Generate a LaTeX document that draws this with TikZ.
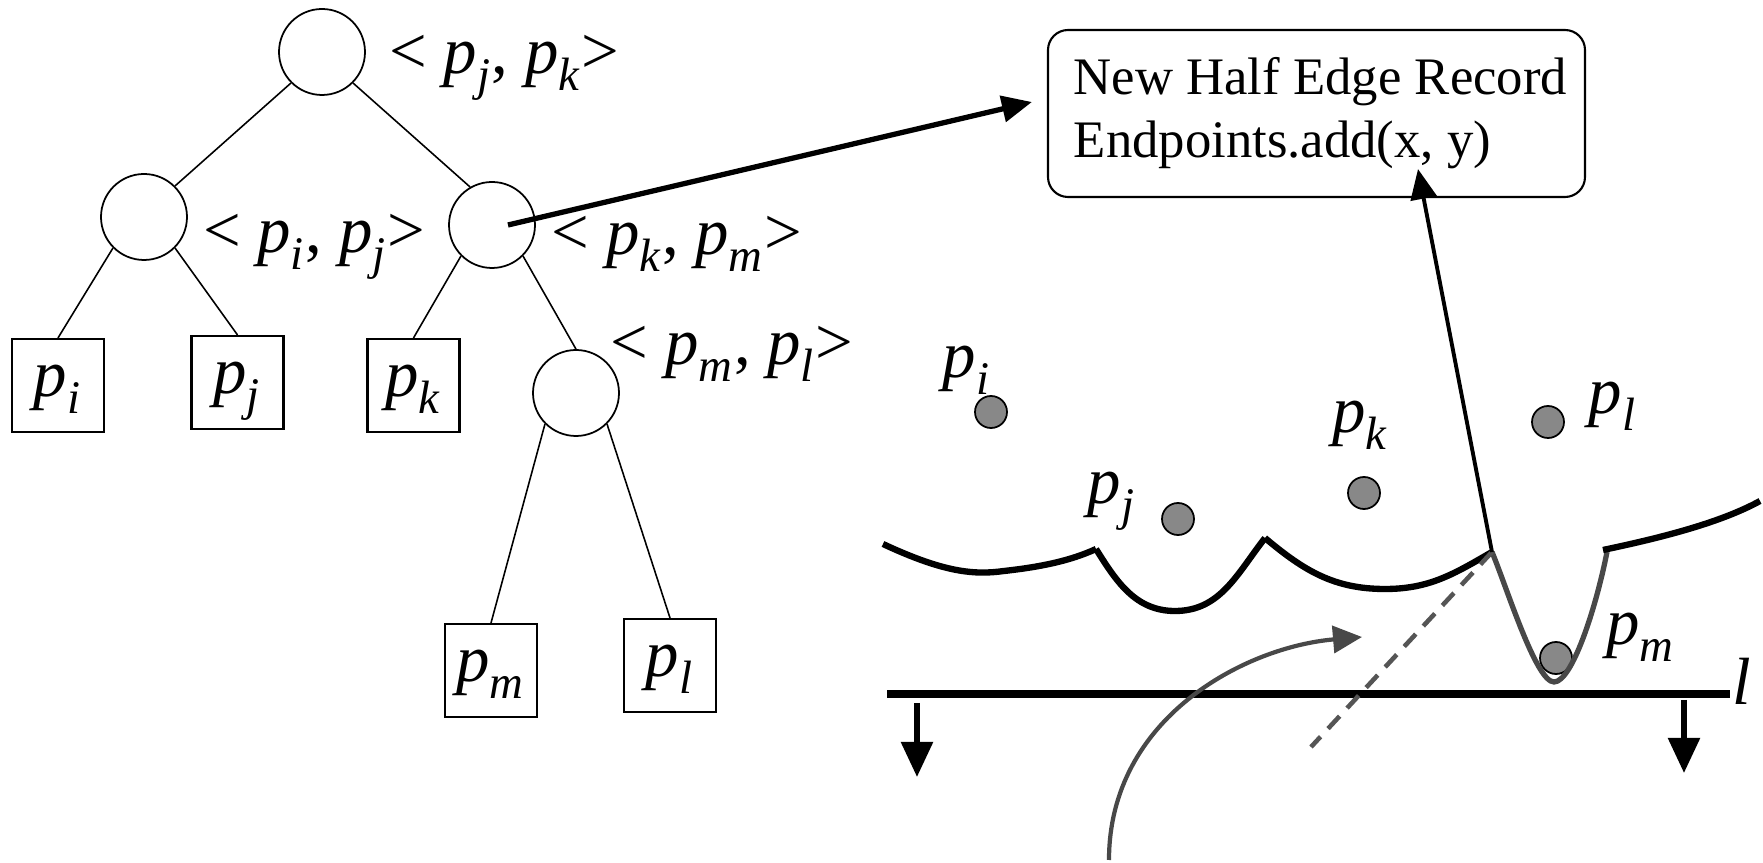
\documentclass[tikz,border=0pt]{standalone}
\usepackage{amsmath}
\usepackage{fontspec}
\setmainfont{Liberation Serif}
\usepackage{tikz}
\usetikzlibrary{arrows.meta,positioning,calc}
\definecolor{dotgray}{RGB}{136,136,136}
\definecolor{arcgray}{RGB}{72,72,72}
\definecolor{dashgray}{RGB}{85,85,85}
\newcommand{\pp}[1]{$\textit{p}_{\textit{#1}}$}

\begin{document}
\begin{tikzpicture}[
    inner/.style={draw, circle, minimum size=0.86cm, inner sep=0pt, line width=0.5pt},
    leaf/.style={draw, rectangle, minimum width=0.92cm, minimum height=0.93cm, inner sep=0pt, line width=0.6pt, font=\fontsize{19}{22}\selectfont, text height=0.9em, text depth=0.25em},
    pair/.style={font=\fontsize{19}{22}\selectfont, inner sep=0pt},
    site/.style={draw, circle, fill=dotgray, minimum size=0.32cm, inner sep=0pt, line width=0.5pt},
    record/.style={draw, rectangle, rounded corners=0.2cm, minimum width=5.37cm, minimum height=1.67cm, align=left, font=\fontsize{15}{18}\selectfont, line width=0.6pt},
    branch/.style={line width=0.45pt},
    bigarrow/.style={-{Triangle[length=0.3cm, width=0.26cm]}, line width=1.5pt},
    beach/.style={line width=1.8pt},
    sweep/.style={line width=2.3pt},
    fall/.style={-{Triangle[length=0.35cm, width=0.31cm]}, line width=1.6pt}
]
\useasboundingbox (0,0) rectangle (17.63,8.63);

% Status tree
\node[inner] (root) at (3.22,8.11) {};
\node[inner] (lc) at (1.44,6.46) {};
\node[inner] (rc) at (4.92,6.38) {};
\node[inner] (mc) at (5.76,4.70) {};

\node[pair] (broot) at (5.04,7.95) {< \pp{j}, \pp{k}>};
\node[pair] (blc) at (3.14,6.16) {< \pp{i}, \pp{j}>};
\node[pair] (brc) at (6.77,6.19) {< \pp{k}, \pp{m}>};
\node[pair] (bmc) at (7.32,5.09) {< \pp{m}, \pp{l}>};

% Leaves
\node[leaf] (fi) at (0.58,4.775) {\pp{i}};
\node[leaf] (fj) at (2.375,4.805) {\pp{j}};
\node[leaf] (fk) at (4.135,4.775) {\pp{k}};
\node[leaf] (fm) at (4.91,1.925) {\pp{m}};
\node[leaf] (fl) at (6.70,1.975) {\pp{l}};

\draw[branch] (root.south west) -- (lc.north east);
\draw[branch] (root.south east) -- (rc.120);
\draw[branch] (lc.south west) -- (fi.north);
\draw[branch] (lc.south east) -- (fj.north);
\draw[branch] (rc.south west) -- (fk.north);
\draw[branch] (rc.south east) -- (mc.north);
\draw[branch] (mc.south west) -- (fm.north);
\draw[branch] (mc.south east) -- (fl.north);

% Half edge record
\node[record] (rec) at (13.165,7.495) {\hspace*{0.08cm}New Half Edge Record\\\hspace*{0.08cm}Endpoints.add(x, y)};

% Sites
\node[site] (si) at (9.91,4.51) {};
\node[site] (sj) at (11.78,3.44) {};
\node[site] (sk) at (13.64,3.70) {};
\node[site] (sl) at (15.48,4.41) {};
\node[site] (sm) at (15.56,2.05) {};
\node[pair] (li) at (9.67,4.93) {\pp{i}};
\node[pair] (lj) at (11.12,3.62) {\pp{j}};
\node[pair] (lk) at (13.60,4.38) {\pp{k}};
\node[pair] (ll) at (16.13,4.57) {\pp{l}};
\node[pair] (lm) at (16.41,2.26) {\pp{m}};

% Beach line
\coordinate (brk) at (14.92,3.11);
\draw[beach] (8.83,3.19) .. controls (9.45,2.90) and (9.75,2.88) .. (10.04,2.92)
    .. controls (10.40,2.96) and (10.70,3.02) .. (10.96,3.14);
\draw[beach] (10.96,3.14) to[out=-58,in=180] (11.75,2.52) to[out=0,in=-128] (12.65,3.25);
\draw[beach] (12.65,3.25) to[out=-40,in=180] (13.85,2.74) to[out=0,in=-150] (brk);
\draw[beach, arcgray, line width=1.5pt] (brk) .. controls (15.07,2.75) and (15.36,1.81) .. (15.54,1.81)
    .. controls (15.72,1.81) and (15.96,2.55) .. (16.07,3.11);
\draw[beach] (16.03,3.13) .. controls (16.6,3.25) and (17.2,3.40) .. (17.60,3.62);

% Sweep line
\coordinate (sw-a) at (8.87,1.69);
\coordinate (sw-b) at (17.30,1.69);
\draw[sweep] (sw-a) -- (sw-b);
\node[pair] (lname) at (17.42,1.82) {\textit{l}};
\coordinate (fa1) at (9.17,1.60);
\coordinate (fa1e) at (9.17,0.86);
\coordinate (fa2) at (16.84,1.63);
\coordinate (fa2e) at (16.84,0.90);
\draw[fall] (fa1) -- (fa1e);
\draw[fall] (fa2) -- (fa2e);

% Breakpoint trace
\coordinate (dashend) at (13.11,1.16);
\draw[dashgray, line width=1.3pt, dash pattern=on 0.17cm off 0.11cm] (brk) -- (dashend);
\coordinate (curl) at (11.09,0.03);
\coordinate (curltip) at (13.62,2.26);
\draw[arcgray, line width=1.2pt, -{Triangle[length=0.29cm, width=0.27cm]}] (curl) .. controls (11.09,1.45) and (12.45,2.16) .. (curltip);

% Connections
\draw[bigarrow] ([xshift=0.16cm]rc.center) -- ([shift={(-0.15,0.115)}]rec.west);
\draw[bigarrow, line width=1.1pt] (brk) -- ([shift={(1.015,0.29)}]rec.south);

\end{tikzpicture}
\end{document}
